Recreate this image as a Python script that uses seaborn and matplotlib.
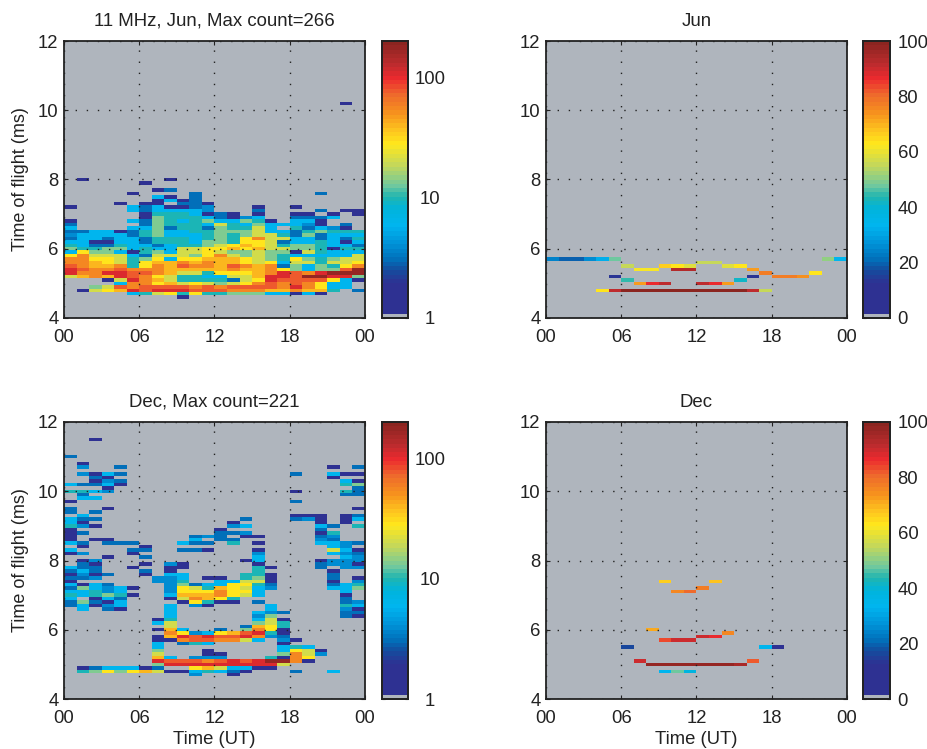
import numpy as np
import pandas as pd
import matplotlib
matplotlib.use("Agg")
import matplotlib.pyplot as plt
from matplotlib.colors import LinearSegmentedColormap, ListedColormap, LogNorm
import seaborn as sns

sns.set_style("white")
plt.rcParams['font.family'] = ['Liberation Sans', 'DejaVu Sans']

# counts per colour code
count_levels = {'D': 1.5, 'B': 3, 'L': 4, 'C': 6, 'T': 9.5, 'G': 14, 'V': 20,
                'Y': 30, 'K': 40, 'O': 55, 'E': 75, 'R': 110, 'X': 180}

# left panels: one string per time of flight row, 24 hourly columns
jun_tof = [10.2, 8.0, 7.9, 7.7, 7.6, 7.5, 7.4, 7.3, 7.2, 7.1, 7.0, 6.9, 6.8, 6.7, 6.6, 6.5,
           6.4, 6.3, 6.2, 6.1, 6.0, 5.9, 5.8, 5.7, 5.6, 5.5, 5.4, 5.3, 5.2, 5.1, 5.0, 4.9,
           4.8, 4.7, 4.6]
jun_rows = [
    "...... ...... ...... ....D.",
    ".D.... ..D... ...... ......",
    "...... D..... ...... ......",
    "...... .DB... ...... ......",
    ".....D ....B. ...... ..B...",
    "...... .CD.B. ...... ......",
    "...... .DCDB. ...... ......",
    "....D. DD.BBD ...... ......",
    "D....C BCDDBL ...D.. D.....",
    ".....C BCCCCL ...B.. ..B.DD",
    "...... DTTTCD BD.D.. DD.D.D",
    "...... DGTTTC BDLC.. BBBC..",
    "D....C BGTCTG CCGTD. CCD...",
    "B..... BGTTTC VTCGCC CLD.B.",
    "C....C CGBTTB GTTVC. TBCLD.",
    "BBCCDB TGCCTT GGGVCC BTGTTT",
    "LCCCCB TGCCCT GTGVVT BGBCCC",
    "BCCBCC BTTTCT GTYOVV CCBCBT",
    "CCDDCC BTTTCG GTYYVB CCTCDC",
    "TCBBTC CBCTTG VYKYVT GGTCCB",
    "GTTGGC TCCVVY YKYKVV GGTDTT",
    "CYGGCD TGCVVY VGGVGG DVTCCC",
    "YOVVVC BVVVGY OVGVGT CCCCCV",
    "OOYYVT GYCYYK KKYVGT YGTGVV",
    "OOKYVT YKKOKO KKYVYC VVTVVY",
    "EOKKOT YOKEOO KEOKOB GCGTYO",
    "REOOEO OOKKKK KOKKOY GCGGEX",
    "ROORRE EOKVVT YYYKOR EORXXX",
    "VKOKRE OYVTTC CVVKRR EXXRRG",
    "...DVR OKVTTT TBVYRE EEEYCD",
    "....CO OYKVYV GVYOEO EOYCC.",
    "..GVEO EEEEOE OEEEEO ROYCC.",
    ".DVYKR ERRREE EOOOKK OKKT.B",
    ".....C TVYTYT TGGGCC DCD...",
    "...... ...D.. ...... ......",
]

dec_tof = [11.5, 11.0, 10.8, 10.7, 10.5, 10.4, 10.3, 10.2, 10.1, 10.0, 9.9, 9.8, 9.7, 9.5,
           9.4, 9.3, 9.2, 9.1, 9.0, 8.9, 8.8, 8.7, 8.6, 8.5, 8.4, 8.3, 8.2, 8.1, 8.0, 7.9,
           7.8, 7.7, 7.6, 7.5, 7.4, 7.3, 7.2, 7.1, 7.0, 6.9, 6.8, 6.7, 6.6, 6.5, 6.4, 6.3,
           6.2, 6.1, 6.0, 5.9, 5.8, 5.7, 5.6, 5.5, 5.4, 5.3, 5.2, 5.1, 5.0, 4.9, 4.8, 4.7]
dec_rows = [
    "..D... ...... ...... ......",
    "B..... ...... ...... ......",
    ".D.... ...... ...... ......",
    ".L..B. ...... ...... ...D.B",
    ".LDCB. ...... ...... B..CDD",
    "..BD.. ...... ...... ...D..",
    "..DLB. ...... ...... ....CD",
    "CBBCD. ...... ...... ....TG",
    "...D.. ...... ...... .....B",
    "TTCL.. ...... ...... D...TB",
    ".B.... ...... ...... ....BB",
    ".CC... ...... ...... ......",
    "D..... ...... ...... B.....",
    "B..D.. ...... ...... .....D",
    "B.B... ...... ...... ......",
    ".C.... ...... ...... DDD.DB",
    "CBB... ...... ..B... BLD.DC",
    "CD.... ...... .D.... ..D.D.",
    "TLD... ...... .LC... ..CB.T",
    "D..... ...... D..... ..B...",
    "DB.... ...... BBL... ..DT..",
    "D..... ....BL B.DD.. ..BL..",
    "D.DD.. ....C. BB.... ..LB..",
    "CB.BBB ...CBB .T.D.. ..CCLB",
    ".D.... D..... ...... ...CL.",
    "C....B B..BBD ...D.. ...VCD",
    "DL...D ...... ...L.. ...CLB",
    "...D.. B..... ...C.. ....CL",
    ".DL... ...... ..DC.. ..DLLL",
    ".BD... D.LD.. ...D.. ..BLLD",
    "CBB..D ..DD.. ...TD. ..B.LL",
    "BCB... B.D... ...T.. ...D..",
    "DLDB.. D.CC.. ..TTD. ...B..",
    "BBL... .LLC.D D.TGD. ...B.D",
    "D..... .LLT.. CCVVD. ...D.L",
    "CDCB.. ..LGBC CYYTB. ...BCT",
    "BGCLCD ..LYVT KYVCL. ...CCG",
    "CCTLC. ..LYYY OYYC.. ....C.",
    "TCTGTD ..CKKK OYVC.. ....D.",
    "C.DCB. ..DVOK YT.... ....B.",
    "BGBDC. ...DYT DD.B.. ....BL",
    "BCDLC. ..C.LD ....C. ....TC",
    ".C.BD. ..C... ....C. ....LD",
    "...... ..C... ...CLB ....BB",
    "...... ..C... ...LG. ....BD",
    "...... .DT... ...CVD ......",
    "...... .CV... ...GVT ......",
    "...... ..V... ..BKYT ......",
    "...... .DKC.. B.GOYD ......",
    "...... ..OYLC YKERTD ......",
    "...... .DKRER EEROLB ......",
    "...... .DDOEE OOVC.L D.....",
    "...... .C.BTC .....D ......",
    "...... .C.... .....C TC....",
    "...... .G...D .....C YVD...",
    "...... .V...D D....G OVL...",
    "...... .KC.LL L...TD OY....",
    "...... .REEEO ERERXX OD....",
    "...... .GRRRR RRRRRV ......",
    ".DBCCC DB..YK VCCDD. ......",
    ".TGYGY KVDDCT CBD... B..C..",
    "...... ....L. .D.... ......",
]

# right panels: percent occurrence, sparse cells
jun_pct_tof = [5.7, 5.7, 5.7, 5.7, 5.7, 5.7, 5.7, 5.7, 5.6, 5.6, 5.5, 5.5, 5.5, 5.5, 5.5, 5.5,
               5.4, 5.4, 5.4, 5.4, 5.4, 5.3, 5.3, 5.2, 5.2, 5.2, 5.2, 5.2, 5.1, 5.1,
               5.0, 5.0, 5.0, 5.0, 5.0, 5.0,
               4.8, 4.8, 4.8, 4.8, 4.8, 4.8, 4.8, 4.8, 4.8, 4.8, 4.8, 4.8, 4.8, 4.8]
jun_pct_hour = [0, 1, 2, 3, 4, 5, 22, 23, 12, 13, 6, 9, 10, 11, 14, 15,
                7, 8, 10, 11, 16, 17, 21, 5, 16, 18, 19, 20, 6, 15,
                7, 8, 9, 12, 13, 14,
                4, 5, 6, 7, 8, 9, 10, 11, 12, 13, 14, 15, 16, 17]
jun_pct_val = [24, 20, 20, 25, 32, 47, 50, 33, 55, 55, 56, 67, 63, 58, 58, 63,
               62, 62, 93, 93, 72, 78, 63, 14, 14, 78, 78, 74, 44, 41,
               72, 87, 92, 92, 87, 72,
               63, 92, 99, 99, 99, 99, 99, 99, 99, 99, 99, 99, 92, 56]

dec_pct_tof = [7.4, 7.4, 7.2, 7.1, 7.1, 6.0, 5.9, 5.8, 5.8, 5.7, 5.7, 5.7, 5.5, 5.5, 5.5,
               5.1, 5.1, 5.0, 5.0, 5.0, 5.0, 5.0, 5.0, 5.0, 5.0, 4.8, 4.8, 4.8]
dec_pct_hour = [9, 13, 12, 10, 11, 8, 14, 12, 13, 9, 10, 11, 6, 17, 18,
                7, 16, 8, 9, 10, 11, 12, 13, 14, 15, 9, 10, 11]
dec_pct_val = [66, 68, 77, 76, 80, 71, 76, 90, 86, 84, 90, 90, 16, 33, 10,
               90, 82, 98, 98, 98, 98, 98, 98, 98, 95, 33, 47, 38]

hour_ticks = [0, 6, 12, 18, 24]
hour_labels = ["00", "06", "12", "18", "00"]
tof_ticks = [4, 6, 8, 10, 12]
tof_edges = np.round(np.arange(4.0, 12.01, 0.1), 1)

# jet like table of the print, position along the bar and colour
cmap_anchors = [(0.0, "#2E3192"), (0.12, "#2E3192"), (0.17, "#134E9F"), (0.21, "#0072BC"),
                (0.27, "#0095DA"), (0.33, "#00B5EF"), (0.39, "#00B4DC"), (0.435, "#1FB5B0"),
                (0.475, "#6DC8A0"), (0.55, "#C2D75C"), (0.63, "#FFE81C"), (0.68, "#FDC51F"),
                (0.74, "#F7941D"), (0.81, "#EE6A2C"), (0.87, "#ED2A2E"), (0.92, "#BE2B2E"),
                (1.0, "#8B2520")]
grey = "#AFB5BD"
ink = "#222222"
base = LinearSegmentedColormap.from_list("print_jet", cmap_anchors, N=64)
table = base(np.linspace(0, 1, 64))
table[0] = matplotlib.colors.to_rgba(grey)
print_cmap = ListedColormap(table)
print_cmap.set_bad(grey)


def rows_to_frame(tof, rows):
    grid = pd.DataFrame(np.nan, index=tof_edges, columns=range(24))
    for t, row in zip(tof, rows):
        for h, code in enumerate(row.replace(" ", "")):
            if code != ".":
                grid.loc[t, h] = count_levels[code]
    return grid


def cells_to_frame(tof, hour, val):
    cells = pd.DataFrame({"tof": tof, "hour": hour, "val": val})
    grid = cells.pivot(index="tof", columns="hour", values="val")
    return grid.reindex(index=tof_edges, columns=range(24))


def draw_panel(rect, cbar_rect, grid, title, log_scale, ylabel, xlabel):
    ax = fig.add_axes(rect)
    cax = fig.add_axes(cbar_rect)
    kws = {"norm": LogNorm(1, 203)} if log_scale else {"vmin": 0, "vmax": 100}
    ticks = [1, 10, 100] if log_scale else [0, 20, 40, 60, 80, 100]
    sns.heatmap(grid, ax=ax, cbar_ax=cax, cmap=print_cmap, xticklabels=False, yticklabels=False,
                cbar_kws={"ticks": ticks}, **kws)
    ax.set_facecolor(grey)
    # rows are centred on their time of flight
    ax.set_ylim(0.5, 80.5)
    ax.set_xlim(0, 24)
    ax.set_xticks(hour_ticks)
    ax.set_xticklabels(hour_labels)
    ax.set_yticks([(t - 4) * 10 + 0.5 for t in tof_ticks])
    ax.set_yticklabels(tof_ticks, rotation=0)
    ax.tick_params(direction="in", length=3, width=0.8, top=True, right=True, bottom=True, left=True,
                   labelsize=13.3, color=ink, labelcolor=ink)
    ax.tick_params(axis="x", pad=8)
    ax.tick_params(axis="y", pad=4)
    ax.set_axisbelow(False)
    ax.grid(True, color=ink, linestyle=(0, (1, 7)), linewidth=1.0)
    for s in ax.spines.values():
        s.set_visible(True)
        s.set_linewidth(1.3)
        s.set_color(ink)
    ax.set_title(title, fontsize=13.4, pad=11, color=ink)
    ax.set_xlabel("")
    ax.set_ylabel("")
    if ylabel:
        ax.set_ylabel("Time of flight (ms)", fontsize=13, labelpad=6, color=ink)
    if xlabel:
        ax.set_xlabel("Time (UT)", fontsize=13.3, labelpad=3, color=ink)

    cax.minorticks_off()
    cax.set_yticks(ticks)
    cax.set_yticklabels([str(t) for t in ticks])
    cax.tick_params(direction="in", length=2.5, width=0.8, left=True, right=True, labelsize=13.3,
                    pad=16 if log_scale else 5.5, labelcolor=ink, color=ink)
    if log_scale:
        for lab in cax.get_yticklabels():
            lab.set_ha("center")
    for s in cax.spines.values():
        s.set_visible(True)
        s.set_linewidth(1.3)
        s.set_color(ink)


W, H = 928, 749
fig = plt.figure(figsize=(W / 100, H / 100), dpi=100, facecolor="white")


def box(x0, x1, y_top, y_bottom):
    return [x0 / W, 1 - y_bottom / H, (x1 - x0) / W, (y_bottom - y_top) / H]


draw_panel(box(64, 365, 41, 318), box(382, 408, 41, 318), rows_to_frame(jun_tof, jun_rows),
           "11 MHz, Jun, Max count=266", True, True, False)
draw_panel(box(546, 847, 41, 318), box(863, 890, 41, 318), cells_to_frame(jun_pct_tof, jun_pct_hour, jun_pct_val),
           "Jun", False, False, False)
draw_panel(box(64, 365, 422, 699), box(382, 408, 422, 699), rows_to_frame(dec_tof, dec_rows),
           "Dec, Max count=221", True, True, True)
draw_panel(box(546, 847, 422, 699), box(863, 890, 422, 699), cells_to_frame(dec_pct_tof, dec_pct_hour, dec_pct_val),
           "Dec", False, False, True)

fig.savefig("out.png", dpi=100)
